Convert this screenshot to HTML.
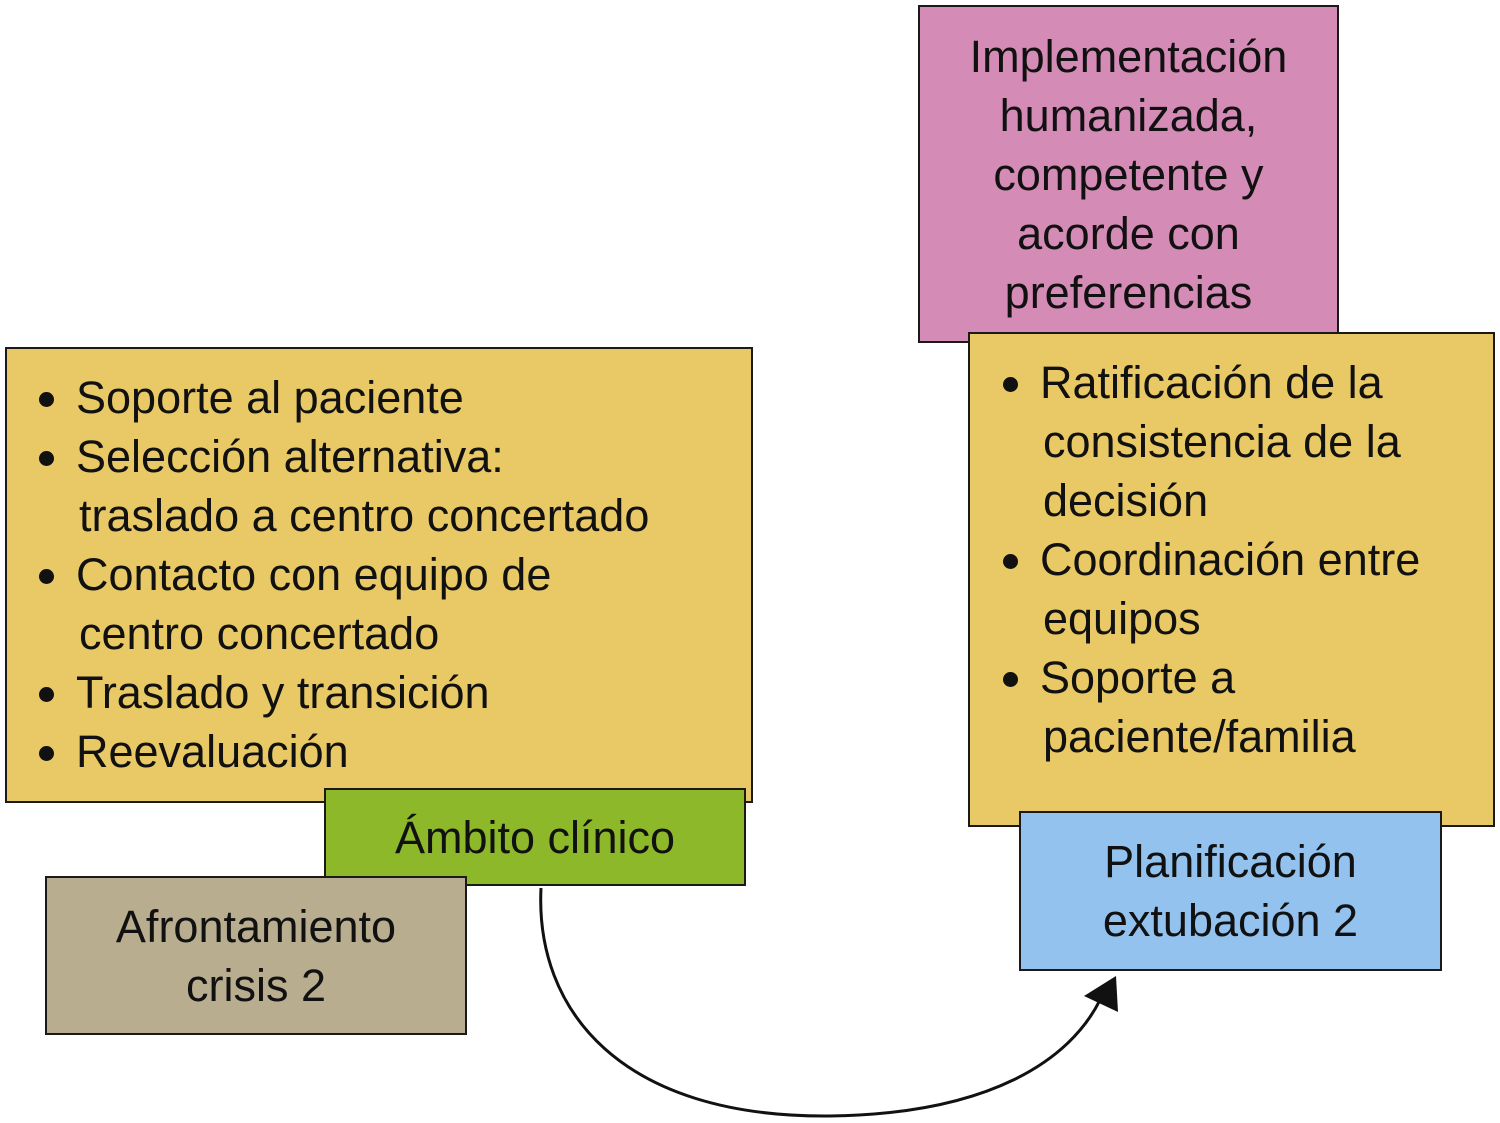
<!DOCTYPE html>
<html><head><meta charset="utf-8"><style>
body{margin:0;width:1500px;height:1123px;background:#fff;position:relative;font-family:"Liberation Sans",Arial,sans-serif;color:#111;overflow:hidden}
.b{position:absolute;box-sizing:border-box;border:2.5px solid #1a1a1a}
.c{display:flex;align-items:center;justify-content:center;text-align:center;font-size:45px;line-height:59px}
.l{position:absolute;font-size:45px;line-height:59px;white-space:nowrap}
.l div{position:relative;padding-left:37px}
.l div.bu::before{content:"";position:absolute;left:0;top:24px;width:15px;height:15px;border-radius:50%;background:#111}
.l div.in{padding-left:40px}
</style></head><body>
<div class="b c" style="left:918px;top:5px;width:421px;height:338px;background:#d48bb6">Implementación<br>humanizada,<br>competente y<br>acorde con<br>preferencias</div>
<div class="b" style="left:5px;top:347px;width:748px;height:456px;background:#e9c965"></div>
<div class="l" style="left:39px;top:368px">
<div class="bu">Soporte al paciente</div>
<div class="bu">Selección alternativa:</div>
<div class="in">traslado a centro concertado</div>
<div class="bu">Contacto con equipo de</div>
<div class="in">centro concertado</div>
<div class="bu">Traslado y transición</div>
<div class="bu">Reevaluación</div>
</div>
<div class="b" style="left:968px;top:332px;width:527px;height:495px;background:#e9c965"></div>
<div class="l" style="left:1003px;top:353px">
<div class="bu">Ratificación de la</div>
<div class="in">consistencia de la</div>
<div class="in">decisión</div>
<div class="bu">Coordinación entre</div>
<div class="in">equipos</div>
<div class="bu">Soporte a</div>
<div class="in">paciente/familia</div>
</div>
<div class="b c" style="left:324px;top:788px;width:422px;height:98px;background:#8db829">Ámbito clínico</div>
<div class="b c" style="left:45px;top:876px;width:422px;height:159px;background:#b8ad8f">Afrontamiento<br>crisis 2</div>
<div class="b c" style="left:1019px;top:811px;width:423px;height:160px;background:#93c2ef">Planificación<br>extubación 2</div>
<svg style="position:absolute;left:0;top:0" width="1500" height="1123">
<path d="M541,888 C535,1010 620,1118 830,1116 C990,1114 1070,1060 1100,1000" fill="none" stroke="#111" stroke-width="3"/>
<polygon points="1116,976 1118,1012 1084,996" fill="#111"/>
</svg>
</body></html>
